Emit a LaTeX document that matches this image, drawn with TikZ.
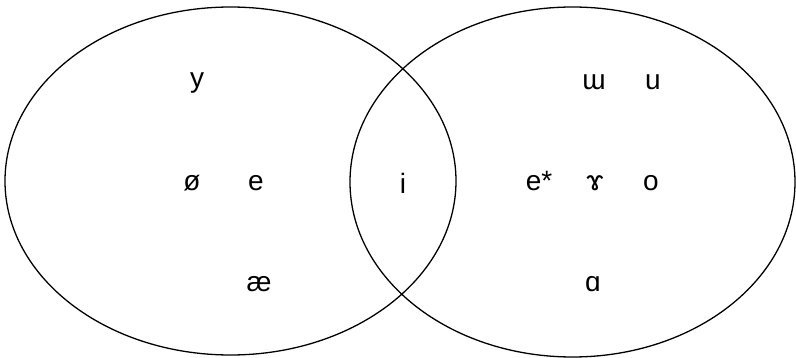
\documentclass[tikz,border=0pt]{standalone}
\usepackage{fontspec}
\setmainfont{Liberation Sans}
\tikzset{vowel/.style={font=\fontsize{28}{32}\selectfont, inner sep=0pt}}
\begin{document}
\begin{tikzpicture}[x=1pt, y=-1pt]
    \useasboundingbox (0,0) rectangle (796,358);
    \draw[line width=1.3pt] (230.5,181) ellipse[x radius=225.5, y radius=174];
    \draw[line width=1.3pt] (572.5,182) ellipse[x radius=222.5, y radius=175];
    \node[vowel] (y) at (197,83) {y};
    \node[vowel] (oslash) at (192,183) {ø};
    \node[vowel] (e) at (256,183) {e};
    \node[vowel] (ae) at (259,284) {æ};
    \node[vowel] (i) at (403,183) {i};
    \node[vowel] (estar) at (539,181) {e*};
    \node[vowel] (ramshorn) at (595,183) {ɤ};
    \node[vowel] (o) at (651,183) {o};
    \node[vowel] (turnedm) at (594,82) {ɯ};
    \node[vowel] (u) at (653,82) {u};
    \node[vowel] (alpha) at (593,284) {ɑ};
\end{tikzpicture}
\end{document}
